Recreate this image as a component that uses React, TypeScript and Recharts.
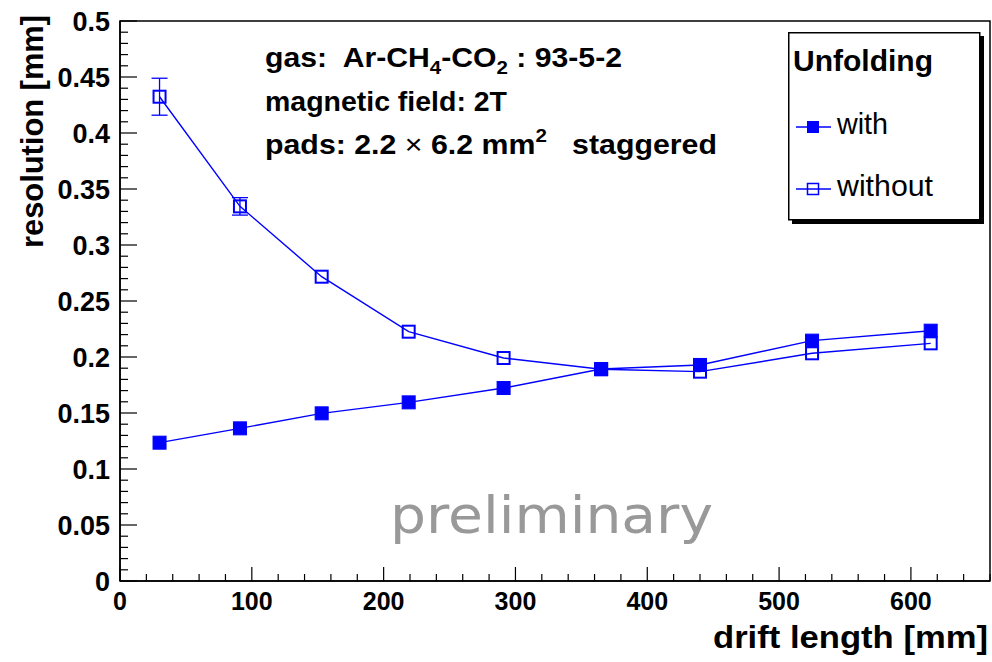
import React from "react";
import {
  ComposedChart,
  Line,
  XAxis,
  YAxis,
  ErrorBar,
  ReferenceArea,
} from "recharts";

// drift length [mm] of each measurement
const drift = [30, 91, 153, 219, 291, 365, 440, 525, 615];
// resolution [mm] with unfolding
const resWith = [0.1235, 0.1363, 0.1497, 0.1595, 0.1723, 0.1893, 0.1929, 0.2146, 0.2235];
// resolution [mm] without unfolding
const resWithout = [0.4324, 0.3345, 0.2717, 0.2226, 0.1991, 0.189, 0.1869, 0.2033, 0.2122];
const errWithout = [0.0165, 0.0078, 0, 0, 0, 0, 0, 0, 0];

const xMajor = [0, 100, 200, 300, 400, 500, 600];
const yMajor = [0, 0.05, 0.1, 0.15, 0.2, 0.25, 0.3, 0.35, 0.4, 0.45, 0.5];
const yLabels = ["0", "0.05", "0.1", "0.15", "0.2", "0.25", "0.3", "0.35", "0.4", "0.45", "0.5"];

// minor ticks: every 20 mm on x, every 0.01 mm on y
const xAll = Array.from({ length: 34 }, (_, i) => i * 20);
const yAll = Array.from({ length: 51 }, (_, i) => i / 100);

const data = drift.map((d, i) => ({
  drift: d,
  with: resWith[i],
  without: resWithout[i],
  withoutErr: errWithout[i],
}));

const BLUE = "#0000ff";
const FONT = "'Liberation Sans', Arial, Helvetica, sans-serif";

function XTick(props: any) {
  const { x, y, payload } = props;
  const v = payload.value;
  const major = xMajor.includes(v);
  return (
    <g>
      <line x1={x} x2={x} y1={y} y2={y - (major ? 14 : 7)} stroke="#000" strokeWidth={1.2} />
      {major && (
        <text x={x} y={y + 29} textAnchor="middle" fontFamily={FONT} fontWeight="bold" fontSize={25} fill="#000">
          {v}
        </text>
      )}
    </g>
  );
}

function YTick(props: any) {
  const { x, y, payload } = props;
  const v = payload.value;
  const idx = yMajor.findIndex((m) => Math.abs(m - v) < 1e-6);
  const major = idx >= 0;
  return (
    <g>
      <line x1={x} x2={x + (major ? 17 : 8)} y1={y} y2={y} stroke="#000" strokeWidth={1.2} />
      {major && (
        <text x={x - 10} y={y + 10} textAnchor="end" fontFamily={FONT} fontWeight="bold" fontSize={27} fill="#000">
          {yLabels[idx]}
        </text>
      )}
    </g>
  );
}

const filledDot = (p: any) => (
  <rect key={`f${p.index}`} x={p.cx - 6.5} y={p.cy - 6.5} width={13} height={13} fill={BLUE} stroke={BLUE} strokeWidth={1} />
);
const openDot = (p: any) => (
  <rect key={`o${p.index}`} x={p.cx - 6} y={p.cy - 6} width={12} height={12} fill="none" stroke={BLUE} strokeWidth={2} />
);

// legend box drawn at its place in the top right corner of the frame
function LegendBox() {
  return (
    <g transform="translate(788,32)">
      <rect x={4} y={4} width={192} height={188} fill="#000" />
      <rect x={0.75} y={0.75} width={191} height={187} fill="#fff" stroke="#000" strokeWidth={1.5} />
      <text x={5} y={39} fontFamily={FONT} fontWeight="bold" fontSize={29} textLength={140} lengthAdjust="spacingAndGlyphs">
        Unfolding
      </text>
      <line x1={8} x2={43} y1={95} y2={95} stroke={BLUE} strokeWidth={1.3} />
      <rect x={19} y={89} width={12} height={12} fill={BLUE} />
      <text x={49} y={102} fontFamily={FONT} fontSize={29} textLength={51} lengthAdjust="spacingAndGlyphs">
        with
      </text>
      <line x1={8} x2={43} y1={157} y2={157} stroke={BLUE} strokeWidth={1.3} />
      <rect x={19.5} y={151.5} width={11} height={11} fill="none" stroke={BLUE} strokeWidth={1.5} />
      <text x={49} y={164} fontFamily={FONT} fontSize={29} textLength={96} lengthAdjust="spacingAndGlyphs">
        without
      </text>
    </g>
  );
}

export default function App() {
  return (
    <div style={{ position: "absolute", left: 0, top: 0, width: 992, height: 662, background: "#fff" }}>
      <ComposedChart
        width={992}
        height={662}
        data={data}
        margin={{ top: 21, right: 2, left: 0, bottom: 0 }}
      >
        <XAxis
          type="number"
          dataKey="drift"
          domain={[0, 660]}
          ticks={xAll}
          interval={0}
          tick={<XTick />}
          tickLine={false}
          tickSize={0}
          tickMargin={0}
          axisLine={{ stroke: "#000", strokeWidth: 1.5 }}
          height={81}
          allowDataOverflow
        />
        <YAxis
          type="number"
          domain={[0, 0.5]}
          ticks={yAll}
          interval={0}
          tick={<YTick />}
          tickLine={false}
          tickSize={0}
          tickMargin={0}
          axisLine={{ stroke: "#000", strokeWidth: 1.5 }}
          width={120}
          allowDataOverflow
        />
        <ReferenceArea x1={0} x2={660} y1={0} y2={0.5} fill="none" stroke="#000" strokeWidth={1.5} />
        <Line
          type="linear"
          dataKey="without"
          stroke={BLUE}
          strokeWidth={1.4}
          dot={openDot}
          activeDot={false}
          isAnimationActive={false}
        >
          <ErrorBar dataKey="withoutErr" width={8} stroke={BLUE} strokeWidth={1.3} direction="y" />
        </Line>
        <Line
          type="linear"
          dataKey="with"
          stroke={BLUE}
          strokeWidth={1.4}
          dot={filledDot}
          activeDot={false}
          isAnimationActive={false}
        />
      </ComposedChart>
      <svg
        width={992}
        height={662}
        style={{ position: "absolute", left: 0, top: 0, pointerEvents: "none" }}
      >
        <LegendBox />
        <g fontFamily={FONT} fontWeight="bold" fontSize={28} fill="#000">
          <text x={265} y={67} xmlSpace="preserve" textLength={357} lengthAdjust="spacingAndGlyphs">
            {"gas:  Ar-CH"}
            <tspan fontSize={19} dy={7}>4</tspan>
            <tspan dy={-7}>-CO</tspan>
            <tspan fontSize={19} dy={7}>2</tspan>
            <tspan dy={-7} xmlSpace="preserve">{" : 93-5-2"}</tspan>
          </text>
          <text x={265} y={111} textLength={242} lengthAdjust="spacingAndGlyphs">
            magnetic field: 2T
          </text>
          <text x={265} y={154} xmlSpace="preserve" textLength={452} lengthAdjust="spacingAndGlyphs">
            {"pads: 2.2 "}
            <tspan fontWeight="normal">×</tspan>
            {" 6.2 mm"}
            <tspan fontSize={19} dy={-12}>2</tspan>
            <tspan dy={12} xmlSpace="preserve">{"   staggered"}</tspan>
          </text>
        </g>
        <text
          x={390}
          y={533}
          fontFamily="'DejaVu Sans', sans-serif"
          fontSize={52}
          fill="#999999"
          textLength={323}
          lengthAdjust="spacingAndGlyphs"
        >
          preliminary
        </text>
        <text
          transform="translate(43,248) rotate(-90)"
          fontFamily={FONT}
          fontWeight="bold"
          fontSize={31}
          textLength={233}
          lengthAdjust="spacingAndGlyphs"
        >
          resolution [mm]
        </text>
        <text
          x={713}
          y={648}
          fontFamily={FONT}
          fontWeight="bold"
          fontSize={32}
          textLength={275}
          lengthAdjust="spacingAndGlyphs"
        >
          drift length [mm]
        </text>
      </svg>
    </div>
  );
}
